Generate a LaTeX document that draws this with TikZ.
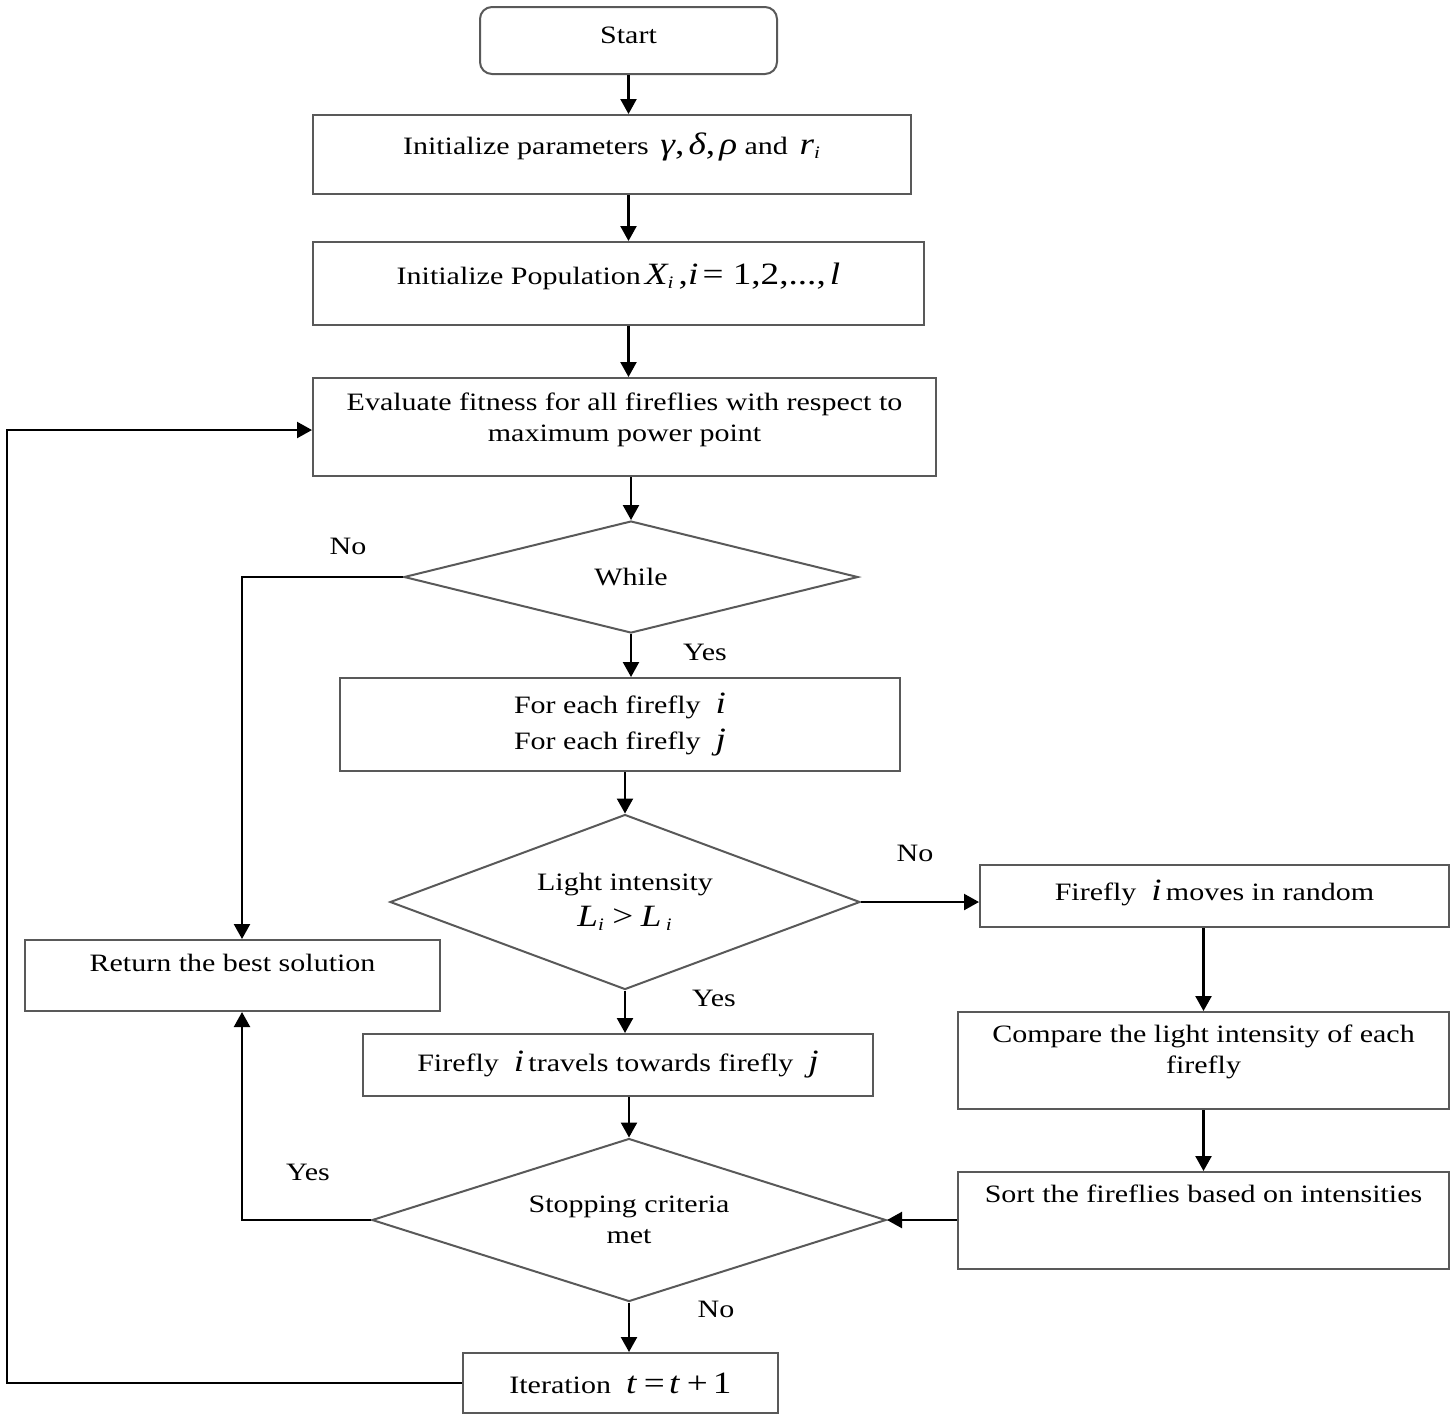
\documentclass[tikz,border=0pt]{standalone}
\usepackage{fontspec}
\setmainfont{Liberation Serif}[FakeStretch=1.2]
\usetikzlibrary{shapes.geometric,arrows.meta}
\newcommand{\mbig}[1]{{\fontsize{15.5}{15.5}\selectfont #1}}
\newcommand{\mv}[1]{{\fontsize{15.5}{15.5}\selectfont\itshape #1}}
\newcommand{\msub}[1]{\textsubscript{\itshape #1}}
\begin{document}
\begin{tikzpicture}[x=0.5pt,y=-0.5pt,
  every node/.style={font=\fontsize{12.5}{15.5}\selectfont},
  box/.style={draw=black!65, line width=1pt, rectangle, inner sep=0pt, align=center},
  dia/.style={draw=black!65, line width=1pt, diamond, inner sep=0pt, align=center},
  arr/.style={draw=black, line width=1.15pt, -{Triangle[length=7.5pt,width=8pt]}},
  lab/.style={inner sep=0pt}
]
\useasboundingbox (0,0) rectangle (1455,1421);

\node[box, rounded corners=6pt, minimum width=148.5pt, minimum height=33.5pt, text depth=5pt] (start) at (628.5,40.5) {Start};
\node[box, minimum width=299pt, minimum height=39.5pt, text depth=10.5pt] (init) at (612,154.5)
  {Initialize parameters \,\mv{γ}\mbig{,}\,\mv{δ}\mbig{,}\,\mv{ρ} and \,\mv{r}\msub{i}};
\node[box, minimum width=305.5pt, minimum height=41.5pt, text depth=9.5pt] (pop) at (618.5,283.5)
  {Initialize Population\,\mv{X}\msub{i}\,\mbig{,}\mv{i}\,\mbig{= 1,2,...,}\,\mv{l}};
\node[box, minimum width=311.5pt, minimum height=49pt, text depth=10pt] (eval) at (624.5,427)
  {Evaluate fitness for all fireflies with respect to\\maximum power point};
\node[dia, aspect=4.05, minimum width=227pt, minimum height=56pt] (while) at (631,577) {While};
\node[box, minimum width=280pt, minimum height=46.5pt] (for) at (620,724.5)
  {For each firefly \ \mv{i}\\[2.5pt]For each firefly \ \mv{j}};
\node[dia, aspect=2.69, minimum width=235pt, minimum height=87.5pt] (light) at (625,902)
  {Light intensity\\[2.5pt]\mv{L}\msub{i}\ \mbig{>}\ \mv{L}\,\msub{i}};
\node[box, minimum width=234.5pt, minimum height=31pt, text depth=6pt] (moves) at (1214.5,896)
  {Firefly \ \mv{i}\,moves in random};
\node[box, minimum width=207.5pt, minimum height=35.5pt, text depth=12.5pt] (ret) at (232.5,975.5)
  {Return the best solution};
\node[box, minimum width=255pt, minimum height=31pt] (travel) at (618,1065)
  {Firefly \ \mv{i}\,travels towards firefly \ \mv{j}};
\node[box, minimum width=245.5pt, minimum height=48.5pt, text depth=11pt] (compare) at (1203.5,1060.5)
  {Compare the light intensity of each\\firefly};
\node[dia, aspect=3.15, minimum width=257pt, minimum height=81.5pt] (stop) at (629,1220)
  {Stopping criteria\\met};
\node[box, minimum width=245.5pt, minimum height=48.5pt, text depth=26.5pt] (sort) at (1203.5,1220.5)
  {Sort the fireflies based on intensities};
\node[box, minimum width=157.5pt, minimum height=30pt] (iter) at (620.5,1383)
  {Iteration \ \mv{t}\ \mbig{=}\,\mv{t}\ \mbig{+\,1}};

\coordinate (loopx) at (7,0);

\draw[arr] (start.south) -- (start.south |- init.north);
\draw[arr] (init.south -| start) -- (pop.north -| start);
\draw[arr] (pop.south -| start) -- (eval.north -| start);
\draw[arr] (eval.south -| while) -- (while.north);
\draw[arr] (while.south) -- (while.south |- for.north);
\draw[arr] (light.north |- for.south) -- (light.north);
\draw[arr] (light.south) -- (light.south |- travel.north);
\draw[arr] (stop.north |- travel.south) -- (stop.north);
\draw[arr] (stop.south) -- (stop.south |- iter.north);
\draw[arr] (while.west) -| ([xshift=4.75pt]ret.north);
\draw[arr] (stop.west) -| ([xshift=4.75pt]ret.south);
\draw[arr] (light.east) -- (light.east -| moves.west);
\draw[arr] (compare.north |- moves.south) -- (compare.north);
\draw[arr] (compare.south) -- (sort.north);
\draw[arr] (sort.west |- stop.east) -- (stop.east);
\draw[arr] (iter.west) -- (iter.west -| loopx) -- ([yshift=-1.5pt]eval.west -| loopx) -- ([yshift=-1.5pt]eval.west);

\node[lab] (l1) at (348,546) {No};
\node[lab] (l2) at (705,652) {Yes};
\node[lab] (l3) at (915,853) {No};
\node[lab] (l4) at (714,998) {Yes};
\node[lab] (l5) at (308,1172) {Yes};
\node[lab] (l6) at (716,1309) {No};
\end{tikzpicture}
\end{document}
